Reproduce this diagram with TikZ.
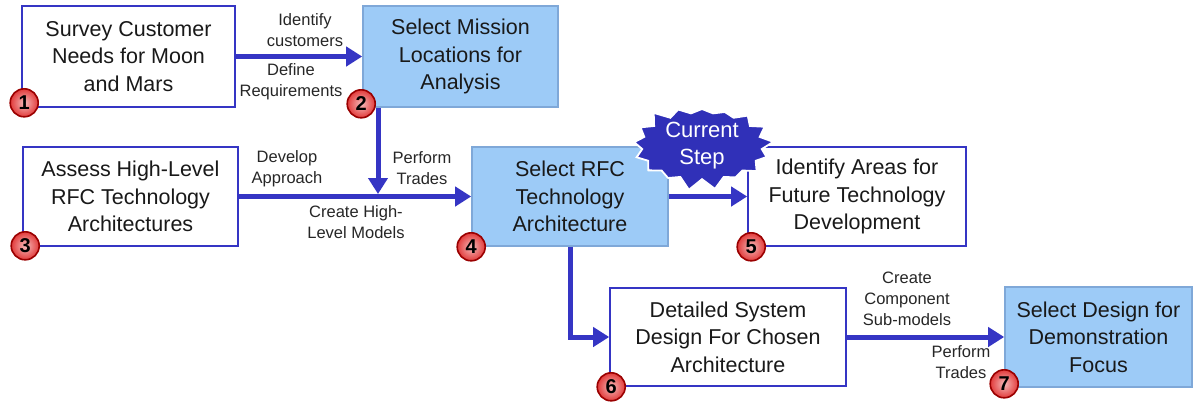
\documentclass[tikz,border=0pt]{standalone}
\usepackage{fontspec}
\setmainfont{Liberation Sans}
\usetikzlibrary{arrows.meta,shapes.symbols}
\definecolor{boxblue}{HTML}{3535C4}
\definecolor{fillblue}{HTML}{9DCBF7}
\definecolor{edgeblue}{HTML}{7FA8D8}
\definecolor{burstblue}{HTML}{3030B8}
\definecolor{numred}{HTML}{E23B3B}
\definecolor{rimred}{HTML}{9A0000}
\begin{document}
\begin{tikzpicture}[x=1pt, y=-1pt, >={Triangle[length=16pt,width=19pt]},
		font=\fontsize{16.5}{21}\selectfont,
		plainbox/.style={draw=boxblue, line width=1.6pt, fill=white, align=center, inner sep=0pt, text=black!90, font=\fontsize{21.5}{27.5}\selectfont},
		pickbox/.style={plainbox, draw=edgeblue, fill=fillblue},
		flow/.style={draw=boxblue, line width=5pt},
		stepno/.style={circle, draw=rimred, line width=1.6pt, inner color=numred!35!white, outer color=numred, minimum size=28pt, inner sep=0pt, font=\bfseries\fontsize{20}{20}\selectfont},
		note/.style={align=center, text=black!85}]
		\def\W{1195} \def\H{402}
		\useasboundingbox (0,0) rectangle (\W,\H);
		
		%	\draw[color=gray!50,dashed,step=50] (0,0) grid (\W,\H);
		
		\node[plainbox, minimum width=213pt, minimum height=101pt] (survey) at (128.5,56.5) {Survey Customer\\Needs for Moon\\and Mars};
		\node[pickbox, minimum width=195pt, minimum height=101pt] (select) at (460.5,56.5) {Select Mission\\Locations for\\Analysis};
		\node[plainbox, minimum width=215pt, minimum height=99pt] (assess) at (130.5,196.5) {Assess High-Level\\RFC Technology\\Architectures};
		\node[pickbox, minimum width=196pt, minimum height=99pt] (rfc) at (570,196.5) {Select RFC\\Technology\\Architecture};
		\node[plainbox, minimum width=218pt, minimum height=99pt] (areas) at (857,196.5) {Identify Areas for\\Future Technology\\Development};
		\node[plainbox, minimum width=236pt, minimum height=98pt] (detail) at (728,337) {Detailed System\\Design For Chosen\\Architecture};
		\node[pickbox, minimum width=187pt, minimum height=100pt] (demo) at (1098.5,337) {Select Design for\\Demonstration\\Focus};
		
		\node[note] (idcust) at (305,30) {Identify\\customers};
		\node[note] (defreq) at (291,82) {Define\\Requirements};
		\node[note] (devapp) at (287,169) {Develop\\Approach};
		\node[note] (trades) at (422,168) {Perform\\Trades};
		\node[note] (hilev) at (356,222) {Create High-\\Level Models};
		\node[note] (submod) at (907,299) {Create\\Component\\Sub-models};
		\node[note] (retrade) at (961,362) {Perform\\Trades};
		
		\coordinate (drop) at (378,194);
		\draw[flow,->] (survey) -- (select);
		\draw[flow,->] (select.south -| drop) -- (drop);
		\draw[flow,->] (assess) -- (rfc);
		\draw[flow,->] (rfc) -- (areas);
		\draw[flow,->] (rfc.south) |- (detail.west);
		\draw[flow,->] (detail) -- (demo);
		
		\node[starburst, starburst points=17, starburst point height=12pt, random starburst=3, fill=burstblue, draw=white, line width=1.8pt, text=white, align=center, inner sep=0pt, minimum width=144pt, minimum height=90pt, font=\fontsize{22}{27}\selectfont] (now) at (702,146) {Current\\Step};
		
		\node[stepno] (n1) at ([shift={(3,-5)}]survey.south west) {1};
		\node[stepno] (n2) at ([shift={(-1,-4)}]select.south west) {2};
		\node[stepno] (n3) at ([shift={(3,-1)}]assess.south west) {3};
		\node[stepno] (n4) at ([shift={(0,0)}]rfc.south west) {4};
		\node[stepno] (n5) at ([shift={(4,0)}]areas.south west) {5};
		\node[stepno] (n6) at ([shift={(2,0)}]detail.south west) {6};
		\node[stepno] (n7) at ([shift={(0,-4)}]demo.south west) {7};
\end{tikzpicture}
\end{document}
